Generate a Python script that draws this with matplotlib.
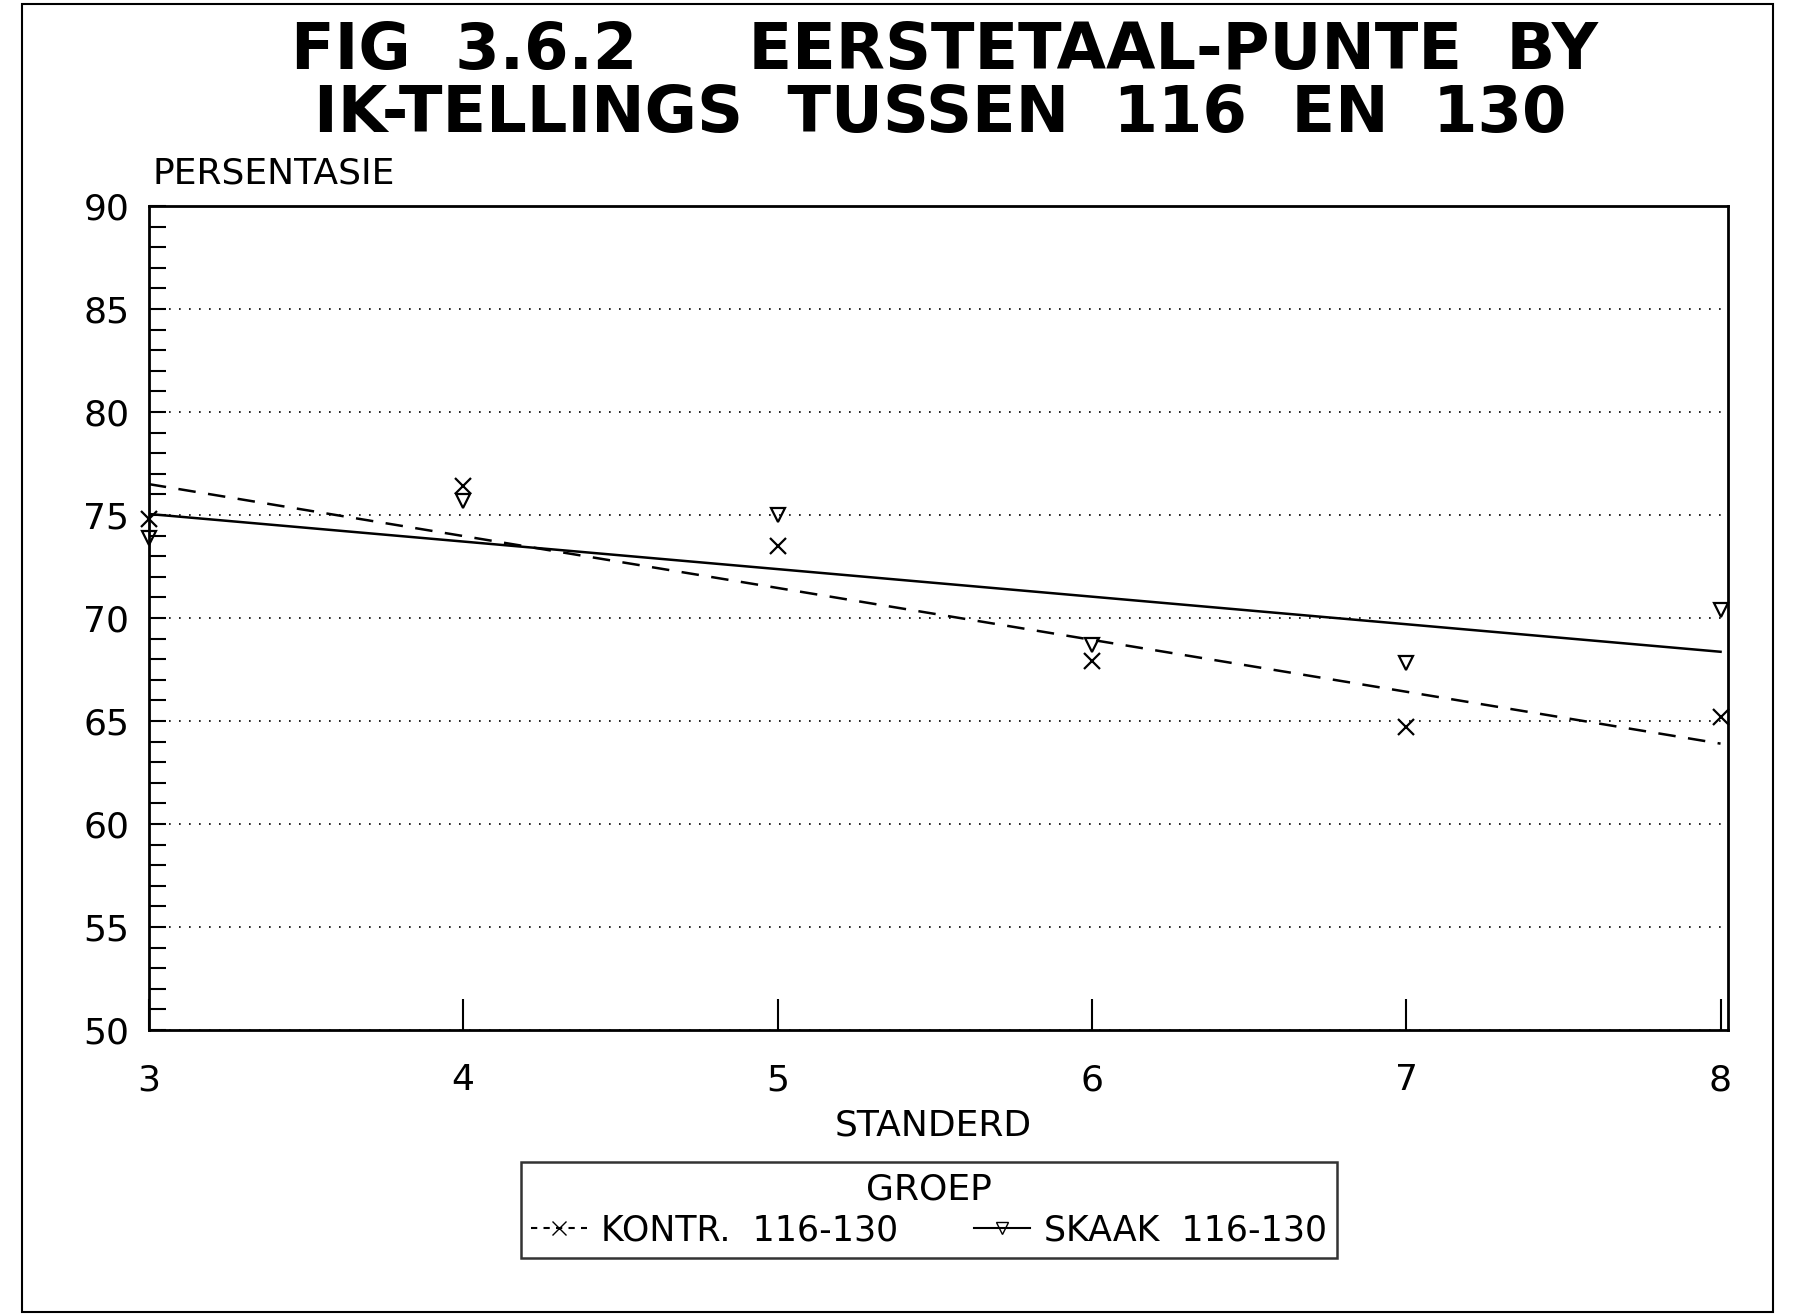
#!/usr/bin/env python3

import matplotlib
matplotlib.use('Agg')
import matplotlib.pyplot as plt
from matplotlib.lines import Line2D
from matplotlib.patches import Rectangle

plt.rcParams.update({'font.family': 'DejaVu Sans'})

# values
standerd = [3, 4, 5, 6, 7, 8]
kontr = [74.8, 76.4, 73.5, 67.9, 64.7, 65.2]
skaak = [73.9, 75.7, 75.0, 68.7, 67.8, 70.4]

# trend lines as drawn in the figure (ends at standerd 3 and 8)
trend_x = [3, 8]
kontr_trend = [76.5, 63.9]
skaak_trend = [75.05, 68.36]

y_ticks = [50, 55, 60, 65, 70, 75, 80, 85, 90]

fig = plt.figure(figsize=(17.95, 13.16), dpi=100)
ax = fig.add_axes([0.0829, 0.2174, 0.880, 0.626])

ax.plot(trend_x, kontr_trend, color='black', lw=1.8, ls=(0, (7, 5)))
ax.plot(trend_x, skaak_trend, color='black', lw=1.8, ls='-')

ax.plot(standerd, kontr, ls='none', marker='x', ms=11, mew=1.6, color='black', clip_on=False)
ax.plot(standerd, skaak, ls='none', marker='v', ms=10, mew=1.6, color='black',
        fillstyle='none', clip_on=False)

ax.set_xlim(3, 8.025)
ax.set_ylim(50, 90)
ax.set_yticks(y_ticks)
ax.set_yticks(range(50, 91), minor=True)
ax.set_xticks(standerd)
ax.tick_params(axis='y', which='both', direction='in', length=12, width=1.5,
               labelsize=26, pad=14)
ax.tick_params(axis='x', which='major', direction='in', length=22, width=1.5,
               labelsize=26, pad=24)
ax.yaxis.grid(True, ls=(0, (1, 5)), color='black', lw=1.2)
for s in ax.spines.values():
    s.set_linewidth(2)

fig.text(0.526, 0.961, 'FIG  3.6.2     EERSTETAAL-PUNTE  BY', ha='center', va='center',
         fontsize=46, fontweight='bold')
fig.text(0.524, 0.913, 'IK-TELLINGS  TUSSEN  116  EN  130', ha='center', va='center',
         fontsize=46, fontweight='bold')
fig.text(0.085, 0.868, 'PERSENTASIE', ha='left', va='center', fontsize=26)
fig.text(0.52, 0.145, 'STANDERD', ha='center', va='center', fontsize=26)

handles = [Line2D([], [], color='black', lw=1.5, ls=(0, (3, 3)), marker='x', ms=10),
           Line2D([], [], color='black', lw=1.5, ls='-', marker='v', ms=9, fillstyle='none')]
leg = fig.legend(handles, ['KONTR.  116-130', 'SKAAK  116-130'], title='GROEP', ncol=2,
                 loc='center', bbox_to_anchor=(0.2806, 0.039, 0.474, 0.083), mode='expand',
                 frameon=True, fancybox=False, edgecolor='black', fontsize=25,
                 title_fontsize=26, handlelength=1.6, handletextpad=0.4, columnspacing=2.6,
                 borderpad=0.3, labelspacing=0.2)
leg.get_frame().set_linewidth(1.8)

# outer frame of the scanned page
fig.patches.append(Rectangle((0.012, 0.003), 0.976, 0.994, transform=fig.transFigure,
                             fill=False, lw=1.5, edgecolor='black'))

plt.savefig('out.png', dpi=100)
plt.close()
